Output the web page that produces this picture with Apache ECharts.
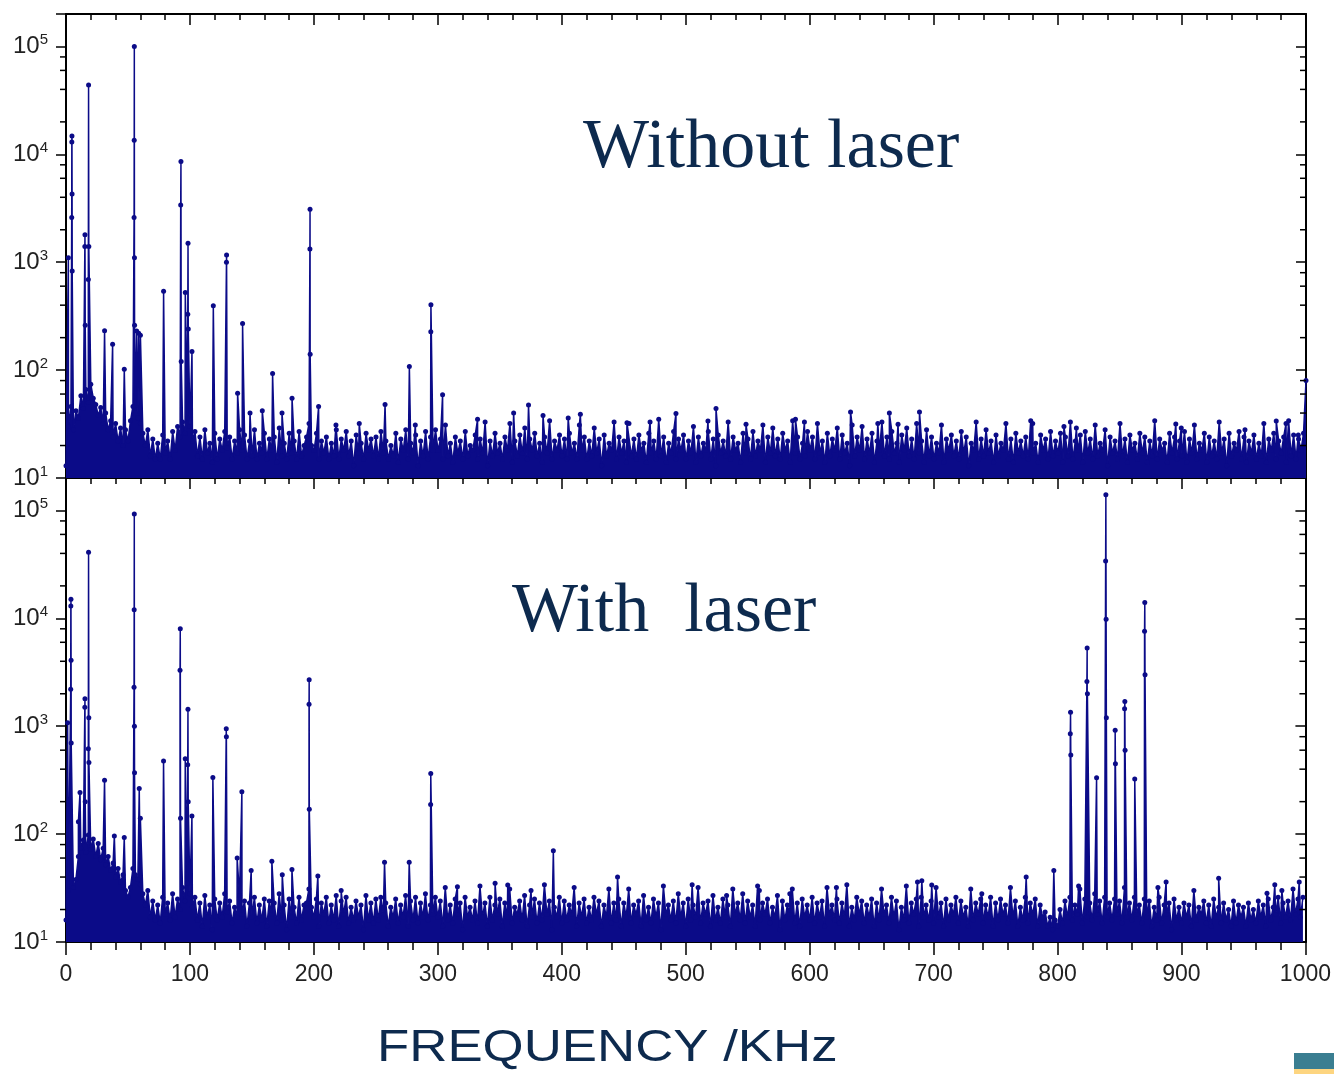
<!DOCTYPE html>
<html>
<head>
<meta charset="utf-8">
<script src="https://cdn.jsdelivr.net/npm/echarts@6/dist/echarts.min.js"></script>
<style>
html, body { margin: 0; padding: 0; background: #ffffff; }
#chart { width: 1334px; height: 1074px; }
</style>
</head>
<body>
<div id="chart"></div>
<script>
// Spectrum amplitude (log scale) versus frequency in kHz.
// Noise floor samples every FREQ_STEP kHz, starting at 0 kHz.
const FREQ_STEP = 2;

const noiseTop = [
  13, 30, 46, 28, 42, 36, 58, 44, 66, 50, 74, 55, 48, 38, 45, 32, 40, 28, 34, 24, 32, 22, 29, 20, 28,
  22, 34, 46, 40, 36, 32, 26, 20, 28, 16, 23, 15, 21, 15, 25, 17, 22, 15, 27, 18, 30, 24, 33, 26, 36,
  30, 22, 27, 16, 24, 15, 28, 17, 21, 14, 26, 15, 23, 18, 27, 19, 24, 15, 22, 17, 28, 18, 25, 15, 22,
  16, 28, 15, 21, 17, 26, 15, 23, 18, 24, 14, 29, 16, 21, 15, 26, 17, 22, 15, 27, 16, 20, 24, 32, 20,
  18, 26, 15, 22, 17, 24, 15, 21, 16, 28, 15, 23, 18, 27, 16, 22, 13, 25, 17, 21, 15, 26, 18, 23, 16,
  24, 15, 27, 17, 22, 15, 20, 16, 26, 14, 23, 18, 28, 15, 21, 17, 25, 13, 22, 16, 27, 15, 24, 18, 28,
  18, 23, 15, 31, 16, 21, 14, 24, 17, 22, 15, 27, 16, 20, 18, 25, 15, 23, 17, 33, 13, 22, 16, 26, 17,
  21, 15, 24, 18, 32, 14, 22, 16, 25, 17, 29, 15, 23, 18, 26, 16, 21, 14, 24, 17, 34, 15, 22, 18, 25,
  16, 23, 15, 26, 17, 21, 15, 31, 18, 24, 15, 22, 16, 29, 17, 23, 13, 25, 16, 21, 18, 33, 15, 24, 17,
  22, 14, 32, 16, 23, 15, 25, 18, 21, 14, 26, 17, 22, 15, 35, 16, 24, 14, 21, 17, 27, 15, 23, 18, 25,
  15, 22, 17, 30, 14, 24, 16, 21, 18, 27, 15, 23, 13, 25, 17, 22, 16, 33, 15, 24, 18, 21, 14, 26, 17,
  23, 15, 27, 16, 22, 18, 31, 14, 24, 17, 29, 16, 23, 15, 26, 18, 22, 14, 34, 17, 24, 15, 21, 16, 27,
  18, 24, 15, 32, 17, 22, 14, 26, 16, 23, 18, 29, 15, 25, 17, 21, 13, 31, 16, 24, 18, 30, 15, 23, 17,
  26, 14, 22, 18, 33, 16, 24, 15, 27, 17, 21, 14, 25, 18, 29, 16, 23, 15, 32, 17, 22, 14, 28, 16, 24,
  15, 21, 17, 31, 14, 23, 18, 25, 16, 22, 15, 27, 17, 24, 13, 21, 18, 33, 15, 23, 16, 28, 17, 22, 14,
  25, 16, 21, 18, 32, 15, 23, 14, 26, 17, 22, 16, 24, 15, 34, 17, 21, 14, 25, 18, 23, 15, 27, 16, 22,
  17, 26, 14, 24, 16, 33, 15, 22, 18, 25, 14, 27, 17, 23, 15, 31, 16, 21, 18, 28, 13, 24, 17, 22, 15,
  32, 16, 23, 14, 25, 18, 21, 15, 26, 17, 24, 14, 22, 16, 34, 15, 23, 18, 21, 14, 26, 17, 24, 15, 22,
  16, 27, 14, 23, 17, 31, 15, 21, 18, 26, 14, 24, 16, 22, 15, 33, 17, 23, 13, 26, 16, 21, 18, 27, 15,
  24, 14, 22, 17, 25, 15, 21, 16, 32, 14, 23, 18, 26, 15, 22, 17, 24, 14, 34, 16, 25, 15, 23, 18, 26
];

const noiseBottom = [
  16, 30, 42, 32, 38, 62, 74, 88, 68, 98, 72, 90, 62, 82, 58, 74, 52, 62, 46, 54, 40, 48, 36, 42, 30,
  26, 32, 48, 42, 38, 34, 28, 22, 30, 17, 24, 16, 22, 15, 26, 18, 23, 16, 28, 17, 25, 20, 32, 24, 35,
  28, 21, 26, 16, 23, 14, 27, 17, 22, 13, 25, 16, 23, 17, 28, 19, 24, 15, 21, 17, 27, 18, 24, 14, 23,
  17, 26, 15, 22, 16, 25, 14, 24, 18, 23, 15, 28, 16, 22, 13, 25, 17, 21, 15, 26, 16, 22, 23, 31, 21,
  17, 25, 14, 23, 18, 26, 15, 22, 16, 27, 14, 24, 18, 26, 15, 21, 16, 24, 17, 22, 13, 27, 16, 23, 15,
  25, 16, 26, 18, 23, 14, 21, 17, 25, 15, 22, 17, 27, 14, 24, 16, 26, 15, 23, 17, 28, 16, 22, 18, 26,
  17, 24, 14, 32, 16, 22, 15, 25, 18, 23, 13, 26, 17, 21, 16, 24, 15, 33, 17, 23, 14, 26, 16, 22, 18,
  25, 14, 23, 17, 31, 15, 21, 18, 24, 16, 27, 14, 22, 17, 25, 15, 23, 16, 34, 18, 24, 13, 21, 17, 26,
  15, 24, 16, 22, 18, 32, 14, 23, 17, 25, 15, 21, 16, 26, 18, 24, 14, 22, 17, 31, 15, 23, 16, 25, 14,
  23, 17, 31, 15, 22, 18, 24, 14, 27, 16, 21, 15, 25, 17, 23, 13, 33, 18, 22, 16, 24, 15, 28, 17, 23,
  14, 25, 16, 22, 17, 32, 15, 23, 18, 24, 14, 27, 16, 21, 15, 25, 17, 22, 14, 31, 18, 23, 16, 28, 15,
  24, 17, 22, 14, 33, 16, 23, 18, 25, 15, 21, 17, 27, 13, 24, 16, 22, 18, 31, 15, 23, 14, 25, 17, 22,
  16, 26, 15, 23, 17, 24, 14, 32, 18, 22, 16, 25, 15, 23, 17, 34, 14, 21, 16, 26, 18, 24, 15, 22, 17,
  25, 14, 23, 16, 31, 18, 22, 15, 26, 17, 24, 13, 21, 16, 33, 15, 23, 18, 25, 14, 26, 17, 22, 16, 24,
  15, 32, 17, 23, 14, 25, 16, 22, 18, 26, 15, 24, 17, 21, 14, 31, 16, 23, 18, 25, 15, 22, 17, 26, 14,
  23, 16, 25, 18, 22, 15, 32, 17, 24, 14, 21, 16, 26, 15, 23, 18, 25, 14, 22, 17, 19, 14, 17, 13, 16,
  14, 20, 15, 24, 17, 26, 16, 22, 18, 31, 15, 25, 17, 23, 16, 28, 18, 24, 15, 26, 17, 23, 16, 25, 18,
  24, 15, 32, 17, 23, 16, 26, 18, 22, 15, 25, 17, 24, 14, 21, 16, 26, 15, 22, 18, 23, 13, 25, 16, 21,
  15, 23, 17, 22, 14, 30, 16, 21, 18, 24, 15, 22, 14, 25, 17, 21, 15, 23, 16, 20, 14, 24, 15, 22, 17,
  21, 14, 23, 16, 20, 15, 24, 17, 22, 14, 25, 16, 21, 18, 26, 15, 23, 17, 24, 16, 31, 18, 25, 17, 26
];

// Spectral lines: [frequency kHz, amplitude]
const peaksTop = [
  [1.9, 1100],
  [4.6, 2600], [4.7, 13000], [4.8, 14800], [4.9, 4300], [5.0, 830],
  [15.2, 1400], [15.3, 1800], [15.5, 260],
  [18.0, 690], [18.2, 44000], [18.4, 1400],
  [31.1, 232], [37.6, 174], [47.0, 102],
  [54.9, 2600], [55.0, 13500], [55.1, 100000], [55.2, 1100], [55.3, 260],
  [57.0, 230], [58.6, 220], [60.0, 210],
  [78.7, 537],
  [92.5, 3400], [92.7, 8600], [92.9, 120],
  [96.2, 525],
  [98.2, 330], [98.4, 1500], [98.6, 240],
  [101.6, 149], [118.8, 395],
  [129.4, 1000], [129.5, 1170],
  [138.4, 61], [142.4, 270], [148.4, 40], [158.3, 42], [166.6, 93], [174.2, 40], [182.3, 55],
  [196.7, 1330], [196.8, 3100], [196.9, 140],
  [203.7, 46], [217.7, 31], [236.5, 32], [257.3, 48], [276.9, 108], [281.7, 31],
  [294.2, 227], [294.3, 404],
  [303.7, 59], [331.9, 35], [361, 40], [373, 47.6], [384.7, 38], [405, 36], [414.8, 39],
  [452.4, 32.6], [471, 33], [491.9, 39.6], [517.7, 33.8], [524.2, 44], [548.4, 31.5],
  [588.3, 35], [595.5, 33], [632.7, 41], [654.7, 32], [664, 40], [671, 31.5], [688.3, 41],
  [779.6, 32], [804.8, 30], [814.8, 29], [895, 31.7], [899.4, 29], [950.8, 28],
  [976, 33.8], [983.9, 32], [993.8, 25], [1000, 80]
];

const peaksBottom = [
  [1.3, 1080],
  [3.8, 2200], [3.9, 13000], [4.0, 15000], [4.1, 4100], [4.2, 700],
  [10.0, 130], [11.3, 243],
  [15.2, 1500], [15.3, 1800], [15.5, 200],
  [18.0, 620], [18.2, 41000], [18.4, 1200], [18.5, 460],
  [31.1, 316], [39.0, 96], [47.0, 93],
  [54.9, 2300], [55.0, 12000], [55.1, 93000], [55.2, 1000], [55.3, 370],
  [59.1, 265], [60.0, 140],
  [78.7, 476],
  [92.0, 3300], [92.2, 8000], [92.4, 140],
  [96.2, 500],
  [98.2, 440], [98.4, 1440], [98.6, 200],
  [101.6, 147], [118.5, 334],
  [129.3, 950], [129.4, 800],
  [138.1, 60], [141.9, 247], [149.4, 46], [166.1, 56], [174.5, 42], [182.3, 47],
  [196.1, 1600], [196.2, 2700], [196.3, 170],
  [203.2, 41], [222, 30], [257, 55], [276.9, 55],
  [294.2, 188], [294.3, 365],
  [315.8, 32.5], [346.2, 35], [356.4, 33.7], [375.2, 30], [393.2, 70], [445, 40],
  [505.2, 34], [533, 27], [559.4, 30], [584, 28], [621.6, 32], [687, 36], [690.5, 37],
  [698.5, 33.7], [738.9, 28], [774.7, 40], [797, 46],
  [810.3, 850], [810.5, 1350], [810.7, 540],
  [817, 33],
  [823.7, 2600], [823.9, 5300], [824.1, 2000],
  [831.5, 333],
  [838.8, 34000], [839.0, 140000], [839.2, 9800], [839.4, 1200],
  [846.5, 917], [846.7, 450],
  [854.1, 1450], [854.3, 1700], [854.5, 600],
  [862.3, 324],
  [870.2, 7600], [870.4, 14000], [870.6, 3000],
  [881, 32], [887.6, 36], [930, 39], [969, 28.3], [975.3, 34], [981, 30], [995, 36]
];

const panelTitles = ['Without laser', 'With  laser'];
const xAxisTitle = 'FREQUENCY /KHz';
const xRange = [0, 1000];
const xMajorStep = 100;
const yRange = [10, 2e5];
const minorMultipliers = [2, 4, 6, 8];
const minorDecades = [10, 100, 1000, 10000];

const NAVY = '#0b0b88';
const TITLE_COLOR = '#0d2a4e';
const AXIS_COLOR = '#000000';
const LABEL_COLOR = '#222222';

function buildSpectrum(noise, peaks) {
  const pts = noise.map((v, i) => [i * FREQ_STEP, v]).concat(peaks.map(p => [p[0], p[1]]));
  pts.sort((a, b) => a[0] - b[0]);
  return pts;
}

const minorTickData = [];
minorDecades.forEach(d => minorMultipliers.forEach(m => minorTickData.push([xRange[0], d * m])));

const chart = echarts.init(document.getElementById('chart'), null, { renderer: 'canvas' });

const grids = [
  { left: 66, width: 1240, top: 14, height: 464 },
  { left: 66, width: 1240, top: 478, height: 464 }
];

function xAxisPair(gridIndex, withLabels) {
  const common = {
    type: 'value', gridIndex: gridIndex, min: xRange[0], max: xRange[1], interval: xMajorStep,
    splitLine: { show: false },
    axisLine: { show: true, onZero: false, lineStyle: { color: AXIS_COLOR, width: 2 } }
  };
  const bottom = Object.assign({}, common, {
    position: 'bottom',
    axisTick: { show: true, inside: !withLabels, length: withLabels ? 13 : 10, lineStyle: { color: AXIS_COLOR, width: 1.5 } },
    minorTick: { show: true, splitNumber: 5, length: withLabels ? 8 : 5, lineStyle: { color: AXIS_COLOR, width: 1.5 } },
    axisLabel: {
      show: withLabels, margin: 21, fontSize: 23, color: LABEL_COLOR, fontFamily: 'Liberation Sans',
      formatter: function (v) { return String(v); }
    }
  });
  const top = Object.assign({}, common, {
    position: 'top',
    axisTick: { show: true, inside: true, length: 11, lineStyle: { color: AXIS_COLOR, width: 1.5 } },
    minorTick: { show: true, splitNumber: 5, length: 6, lineStyle: { color: AXIS_COLOR, width: 1.5 } },
    axisLabel: { show: false }
  });
  return [bottom, top];
}

function powerLabel(value) {
  const e = Math.log10(value);
  const r = Math.round(e);
  if (Math.abs(e - r) > 1e-6) return '';
  return '{b|10}{s|' + r + '}';
}

function yAxisPair(gridIndex) {
  const common = {
    type: 'log', logBase: 10, gridIndex: gridIndex, min: yRange[0], max: yRange[1],
    splitLine: { show: false },
    minorTick: { show: false },
    axisLine: { show: true, onZero: false, lineStyle: { color: AXIS_COLOR, width: 2 } }
  };
  const left = Object.assign({}, common, {
    position: 'left',
    axisTick: { show: true, inside: false, length: 10, lineStyle: { color: AXIS_COLOR, width: 1.5 } },
    axisLabel: {
      show: true, margin: 18, formatter: powerLabel,
      rich: {
        b: { fontSize: 24, color: LABEL_COLOR, fontFamily: 'Liberation Sans' },
        s: { fontSize: 15, color: LABEL_COLOR, fontFamily: 'Liberation Sans', padding: [0, 0, 13, 0] }
      }
    }
  });
  const right = Object.assign({}, common, {
    position: 'right',
    axisTick: { show: true, inside: true, length: 10, lineStyle: { color: AXIS_COLOR, width: 1.5 } },
    axisLabel: { show: false }
  });
  return [left, right];
}

const xAxes = xAxisPair(0, false).concat(xAxisPair(1, true));
const yAxes = yAxisPair(0).concat(yAxisPair(1));

function spectrumSeries(data, gridIndex) {
  return {
    type: 'line',
    xAxisIndex: gridIndex * 2,
    yAxisIndex: gridIndex * 2,
    data: data,
    symbol: 'circle',
    symbolSize: 5,
    showSymbol: true,
    showAllSymbol: true,
    smooth: false,
    clip: true,
    silent: true,
    animation: false,
    lineStyle: { color: NAVY, width: 1.5 },
    itemStyle: { color: NAVY },
    areaStyle: { color: NAVY, opacity: 1, origin: 'start' },
    z: 2
  };
}

// Log-axis minor ticks at 2, 4, 6, 8 x 10^n on both vertical frame edges
function minorTickSeries(gridIndex) {
  return {
    type: 'custom',
    xAxisIndex: gridIndex * 2,
    yAxisIndex: gridIndex * 2,
    data: minorTickData,
    silent: true,
    animation: false,
    clip: false,
    z: 5,
    renderItem: function (params, api) {
      const v = api.value(1);
      const pl = api.coord([xRange[0], v]);
      const pr = api.coord([xRange[1], v]);
      const st = { stroke: AXIS_COLOR, lineWidth: 1.5 };
      return {
        type: 'group',
        children: [
          { type: 'line', shape: { x1: pl[0] - 6, y1: pl[1], x2: pl[0], y2: pl[1] }, style: st },
          { type: 'line', shape: { x1: pr[0] - 6, y1: pr[1], x2: pr[0], y2: pr[1] }, style: st }
        ]
      };
    }
  };
}

chart.setOption({
  backgroundColor: '#ffffff',
  animation: false,
  grid: grids,
  xAxis: xAxes,
  yAxis: yAxes,
  series: [
    spectrumSeries(buildSpectrum(noiseTop, peaksTop), 0),
    spectrumSeries(buildSpectrum(noiseBottom, peaksBottom), 1),
    minorTickSeries(0),
    minorTickSeries(1)
  ],
  graphic: [
    {
      type: 'text', x: 583, y: 149, z: 10,
      style: { text: panelTitles[0], font: '70px "Liberation Serif"', fill: TITLE_COLOR, verticalAlign: 'middle', align: 'left' }
    },
    {
      type: 'text', x: 512, y: 613, z: 10,
      style: { text: panelTitles[1], font: '70px "Liberation Serif"', fill: TITLE_COLOR, verticalAlign: 'middle', align: 'left' }
    },
    {
      type: 'text', x: 377, y: 1049, scaleX: 1.2, z: 10,
      style: { text: xAxisTitle, font: '44px "Liberation Sans"', fill: TITLE_COLOR, verticalAlign: 'middle', align: 'left' }
    },
    { type: 'rect', shape: { x: 1294, y: 1053, width: 40, height: 16 }, style: { fill: '#3a7e91' } },
    { type: 'rect', shape: { x: 1294, y: 1069, width: 40, height: 5 }, style: { fill: '#fdd580' } }
  ]
});
</script>
</body>
</html>
